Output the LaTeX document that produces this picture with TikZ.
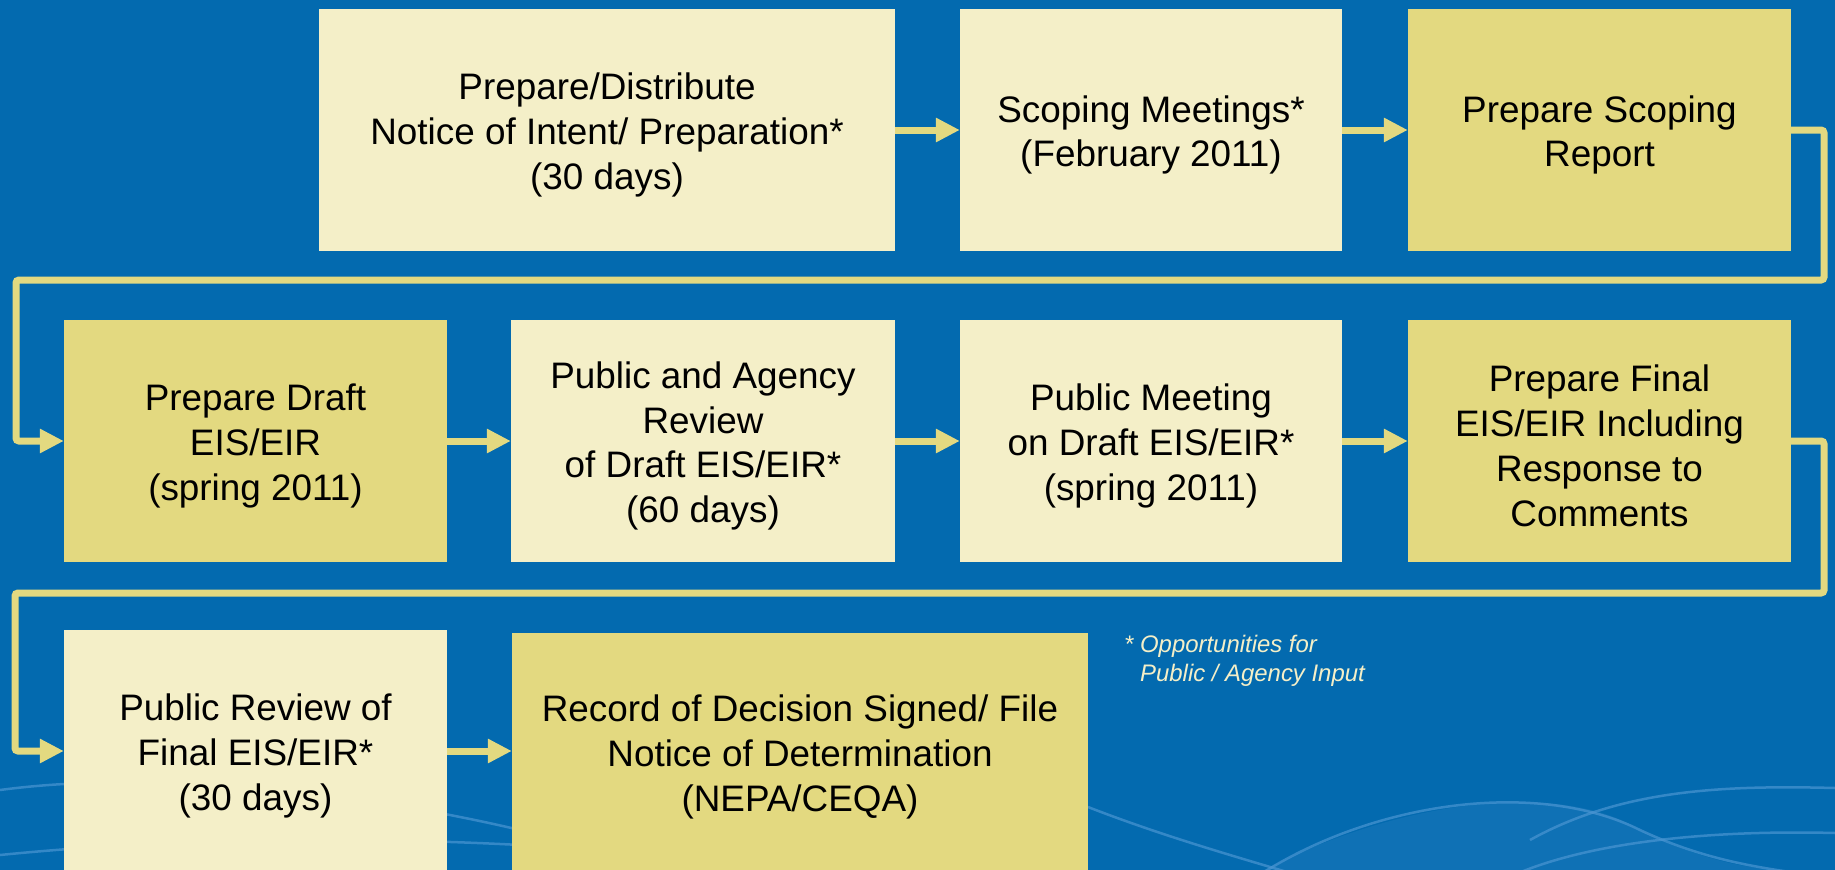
\documentclass[tikz,border=0pt]{standalone}
\usepackage{fontspec}
\setmainfont{Liberation Sans}
\usetikzlibrary{arrows.meta}
\definecolor{bgblue}{HTML}{036AAF}
\definecolor{lightbox}{HTML}{F4EFC8}
\definecolor{darkbox}{HTML}{E3D980}
\definecolor{wave}{HTML}{4A95D2}
\tikzset{
  box/.style={rectangle, inner sep=0pt},
  lbox/.style={box, fill=lightbox},
  dbox/.style={box, fill=darkbox},
  boxtext/.style={inner sep=0pt, align=center, text=black,
    font=\fontsize{37}{45}\selectfont},
  conn/.style={draw=darkbox, line width=7bp, rounded corners=3bp,
    -{Triangle[length=24bp,width=23bp]}},
  waveline/.style={draw=wave, line width=2.5bp, opacity=0.7}
}
\begin{document}
\begin{tikzpicture}[x=1bp,y=-1bp]
\useasboundingbox (0,0) rectangle (1835,870);
\fill[bgblue] (0,0) rectangle (1835,870);
% background waves
\fill[wave, opacity=0.18] (1264,870) .. controls (1400,800) and (1560,780) .. (1640,830) .. controls (1700,860) and (1750,870) .. (1790,870) -- cycle;
\draw[waveline] (1088,807) .. controls (1160,835) and (1230,855) .. (1287,872);
\draw[waveline] (1264,872) .. controls (1380,800) and (1540,780) .. (1640,830) .. controls (1700,858) and (1750,866) .. (1790,872);
\draw[waveline] (1530,840) .. controls (1620,790) and (1720,785) .. (1835,788);
\draw[waveline] (1521,872) .. controls (1600,840) and (1720,830) .. (1835,833);
\draw[waveline] (0,790) .. controls (150,770) and (350,790) .. (520,830);
\draw[waveline] (0,855) .. controls (150,840) and (330,835) .. (520,845);
% boxes
\node[lbox, minimum width=576bp, minimum height=242bp] (A) at (607,130) {};
\node[lbox, minimum width=382bp, minimum height=242bp] (B) at (1151,130) {};
\node[dbox, minimum width=383bp, minimum height=242bp] (C) at (1599.5,130) {};
\node[dbox, minimum width=383bp, minimum height=242bp] (D) at (255.5,441) {};
\node[lbox, minimum width=384bp, minimum height=242bp] (E) at (703,441) {};
\node[lbox, minimum width=382bp, minimum height=242bp] (F) at (1151,441) {};
\node[dbox, minimum width=383bp, minimum height=242bp] (G) at (1599.5,441) {};
\node[lbox, minimum width=383bp, minimum height=242bp] (H) at (255.5,751) {};
\node[dbox, minimum width=576bp, minimum height=238bp] (I) at (800,752) {};
% box texts
\node[boxtext] (At) at ([yshift=-5bp]A.center)
  {Prepare/Distribute\\Notice of Intent/ Preparation*\\(30 days)};
\node[boxtext] (Bt) at ([yshift=-5bp]B.center)
  {Scoping Meetings*\\(February 2011)};
\node[boxtext] (Ct) at ([yshift=-5bp]C.center)
  {Prepare Scoping\\Report};
\node[boxtext] (Dt) at ([yshift=-5bp]D.center)
  {Prepare Draft\\EIS/EIR\\(spring 2011)};
\node[boxtext] (Et) at ([yshift=-5bp]E.center)
  {Public and Agency\\Review\\of Draft EIS/EIR*\\(60 days)};
\node[boxtext] (Ft) at ([yshift=-5bp]F.center)
  {Public Meeting\\on Draft EIS/EIR*\\(spring 2011)};
\node[boxtext] (Gt) at ([yshift=-5bp]G.center)
  {Prepare Final\\EIS/EIR Including\\Response to\\Comments};
\node[boxtext] (Ht) at ([yshift=-5bp]H.center)
  {Public Review of\\Final EIS/EIR*\\(30 days)};
\node[boxtext] (It) at ([yshift=-5bp]I.center)
  {Record of Decision Signed/ File\\Notice of Determination\\(NEPA/CEQA)};
% footnote
\node[anchor=north west, inner sep=0pt, align=left, text=lightbox,
  font=\fontsize{24}{29.5}\selectfont\itshape] (note) at (1124,635)
  {*~Opportunities for\\\phantom{*}~Public / Agency Input};
% connectors
\coordinate (r1) at (1824,280);
\coordinate (l1) at (16,280);
\coordinate (r2) at (1824,593);
\coordinate (l2) at (15,593);
\draw[conn] (A) -- (B);
\draw[conn] (B) -- (C);
\draw[conn] (C.east) -| (r1) -- (l1) |- (D.west);
\draw[conn] (D) -- (E);
\draw[conn] (E) -- (F);
\draw[conn] (F) -- (G);
\draw[conn] (G.east) -| (r2) -- (l2) |- (H.west);
\draw[conn] (H.east) -- (H.east -| I.west);
\end{tikzpicture}
\end{document}
